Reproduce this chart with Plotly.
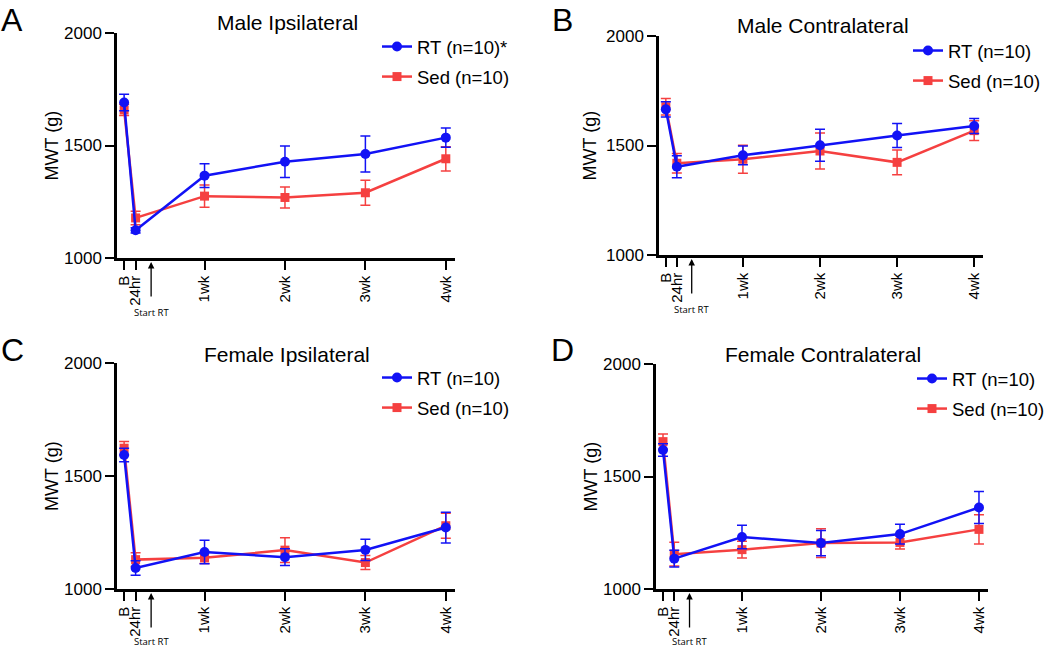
import plotly.graph_objects as go

# ---------------- data ----------------
timepoint_days = [0, 1, 7, 14, 21, 28]
timepoint_labels = ["B", "24hr", "1wk", "2wk", "3wk", "4wk"]
start_rt_day = 2.35

panel_letters = ["A", "B", "C", "D"]
panel_titles = ["Male Ipsilateral", "Male Contralateral", "Female Ipsilateral", "Female Contralateral"]
y_title = "MWT (g)"
rt_names = ["RT (n=10)*", "RT (n=10)", "RT (n=10)", "RT (n=10)"]
sed_names = ["Sed (n=10)", "Sed (n=10)", "Sed (n=10)", "Sed (n=10)"]

rt_male_ipsi = [1691, 1123, 1366, 1428, 1462, 1535]
rt_male_ipsi_sem = [37, 12, 53, 70, 80, 43]
sed_male_ipsi = [1658, 1178, 1275, 1269, 1290, 1441]
sed_male_ipsi_sem = [25, 30, 49, 47, 56, 54]

rt_male_contra = [1665, 1403, 1455, 1501, 1546, 1589]
rt_male_contra_sem = [35, 50, 43, 73, 55, 34]
sed_male_contra = [1677, 1419, 1437, 1475, 1423, 1568]
sed_male_contra_sem = [38, 45, 64, 82, 57, 45]

rt_female_ipsi = [1593, 1093, 1164, 1141, 1173, 1272]
rt_female_ipsi_sem = [30, 32, 52, 37, 47, 68]
sed_female_ipsi = [1623, 1130, 1138, 1172, 1117, 1280]
sed_female_ipsi_sem = [30, 30, 25, 55, 31, 55]

rt_female_contra = [1618, 1135, 1231, 1204, 1244, 1362]
rt_female_contra_sem = [28, 37, 52, 56, 44, 71]
sed_female_contra = [1655, 1155, 1175, 1204, 1207, 1265]
sed_female_contra_sem = [34, 53, 37, 64, 29, 65]

rt_means = [rt_male_ipsi, rt_male_contra, rt_female_ipsi, rt_female_contra]
rt_sems = [rt_male_ipsi_sem, rt_male_contra_sem, rt_female_ipsi_sem, rt_female_contra_sem]
sed_means = [sed_male_ipsi, sed_male_contra, sed_female_ipsi, sed_female_contra]
sed_sems = [sed_male_ipsi_sem, sed_male_contra_sem, sed_female_ipsi_sem, sed_female_contra_sem]

# ---------------- layout geometry (pixels) ----------------
W, H = 1050, 648
# (x0, x1, ytop, ybottom) of each plot area
boxes = [(117, 455, 33, 258), (659, 983, 36, 255), (117, 455, 363, 589), (656, 988, 364, 589)]
legend_pos = [(377, 28), (908, 32), (377, 359), (912, 360)]
title_pos = [(287, 22), (823, 26), (287, 354), (823, 354)]
letter_pos = [(12, 0), (562, 0), (12, 330), (562, 330)]
ytitle_x = [52, 590, 52, 590]
start_text_gap = [54, 54, 52, 52]

BLUE = "rgb(18,18,245)"
RED = "rgb(245,64,64)"
FONT = "Liberation Sans, Arial, sans-serif"

fig = go.Figure()
layout = dict(
    width=W, height=H, margin=dict(l=0, r=0, t=0, b=0, pad=0, autoexpand=False),
    paper_bgcolor="white", plot_bgcolor="white",
    font=dict(family=FONT, color="black"),
    showlegend=True,
)
annotations = []

for i in range(4):
    n = i + 1
    xa = "x" if n == 1 else f"x{n}"
    ya = "y" if n == 1 else f"y{n}"
    lg = "legend" if n == 1 else f"legend{n}"
    x0, x1, yt, yb = boxes[i]

    fig.add_trace(go.Scatter(
        x=timepoint_days, y=sed_means[i], name=sed_names[i], mode="lines+markers",
        xaxis=xa, yaxis=ya, legend=lg, legendrank=2, legendgroup=f"sed{n}",
        line=dict(color=RED, width=2.5),
        marker=dict(symbol="square", size=9, color=RED),
        error_y=dict(type="data", array=sed_sems[i], color=RED, thickness=1.5, width=5),
    ))
    fig.add_trace(go.Scatter(
        x=timepoint_days, y=rt_means[i], name=rt_names[i], mode="lines+markers",
        xaxis=xa, yaxis=ya, legend=lg, legendrank=1, legendgroup=f"rt{n}",
        line=dict(color=BLUE, width=2.5),
        marker=dict(symbol="circle", size=10, color=BLUE),
        error_y=dict(type="data", array=rt_sems[i], color=BLUE, thickness=1.5, width=5),
    ))

    xkey = "xaxis" if n == 1 else f"xaxis{n}"
    ykey = "yaxis" if n == 1 else f"yaxis{n}"
    layout[xkey] = dict(
        domain=[x0 / W, x1 / W], anchor=ya, range=[-0.62, 28.8],
        tickmode="array", tickvals=timepoint_days, ticktext=timepoint_labels,
        tickangle=-90, ticks="outside", ticklen=9, tickwidth=2, tickcolor="black",
        showline=True, linewidth=2.5, linecolor="black",
        showgrid=False, zeroline=False, tickfont=dict(size=15, family=FONT),
        fixedrange=True, automargin=False,
    )
    layout[ykey] = dict(
        domain=[1 - yb / H, 1 - yt / H], anchor=xa, range=[1000, 2000],
        tickmode="array", tickvals=[1000, 1500, 2000],
        ticks="outside", ticklen=9, tickwidth=2, tickcolor="black",
        showline=True, linewidth=2.5, linecolor="black",
        showgrid=False, zeroline=False, tickfont=dict(size=17, family=FONT),
        fixedrange=True, automargin=False,
    )
    lx, ly = legend_pos[i]
    layout[lg] = dict(
        x=lx / W, y=1 - ly / H, xanchor="left", yanchor="top",
        bgcolor="rgba(0,0,0,0)", font=dict(size=18.5, family=FONT),
        itemwidth=30, tracegroupgap=3, traceorder="grouped",
    )

    tx, ty = title_pos[i]
    annotations.append(dict(text=panel_titles[i], x=tx / W, y=1 - ty / H, xref="paper", yref="paper",
                            showarrow=False, font=dict(size=21, family=FONT), xanchor="center", yanchor="middle"))
    annotations.append(dict(text=y_title, x=ytitle_x[i] / W, y=1 - (yt + yb) / 2 / H, xref="paper", yref="paper",
                            showarrow=False, textangle=-90, font=dict(size=18, family=FONT),
                            xanchor="center", yanchor="middle"))
    px, py = letter_pos[i]
    annotations.append(dict(text=panel_letters[i], x=px / W, y=1 - py / H, xref="paper", yref="paper",
                            showarrow=False, font=dict(size=32, family=FONT),
                            xanchor="center", yanchor="top"))
    dom_h = yb - yt
    annotations.append(dict(text="", x=start_rt_day, xref=xa, y=-4 / dom_h, yref=f"{ya} domain",
                            showarrow=True, ax=0, ay=36, arrowhead=2, arrowsize=1, arrowwidth=1.3,
                            arrowcolor="black"))
    annotations.append(dict(text="Start RT", x=start_rt_day, xref=xa, y=-start_text_gap[i] / dom_h,
                            yref=f"{ya} domain", showarrow=False,
                            font=dict(size=9.5, family="Open Sans, sans-serif"),
                            xanchor="center", yanchor="middle"))

layout["annotations"] = annotations
fig.update_layout(**layout)
fig.write_html("out.html", config={"displayModeBar": False},
               post_script="document.body.style.margin='0px';")
